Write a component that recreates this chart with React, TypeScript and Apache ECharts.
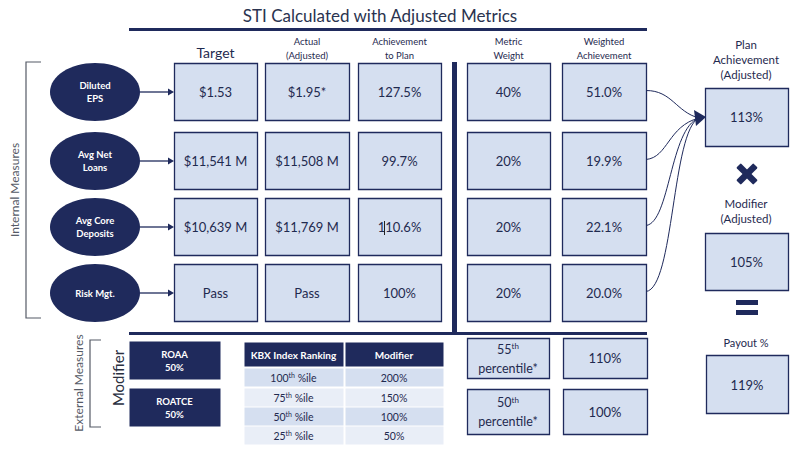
import React, { useEffect, useRef } from "react";
import * as echarts from "echarts";

// ---------- data ----------
const title = "STI Calculated with Adjusted Metrics";
const metrics = ["Diluted\nEPS", "Avg Net\nLoans", "Avg Core\nDeposits", "Risk Mgt."];
const targets = ["$1.53", "$11,541 M", "$10,639 M", "Pass"];
const actuals = ["$1.95*", "$11,508 M", "$11,769 M", "Pass"];
const achievements = ["127.5%", "99.7%", "110.6%", "100%"];
const weights = ["40%", "20%", "20%", "20%"];
const weightedAch = ["51.0%", "19.9%", "22.1%", "20.0%"];
const columnHeaders = ["Target", "Actual\n(Adjusted)", "Achievement\nto Plan", "Metric\nWeight", "Weighted\nAchievement"];
const modifierMetrics = ["ROAA\n50%", "ROATCE\n50%"];
const kbxHeaders = ["KBX Index Ranking", "Modifier"];
const kbxRanks = ["100", "75", "50", "25"];
const kbxModifiers = ["200%", "150%", "100%", "50%"];
const percentileRanks = ["55", "50"];
const percentileModifiers = ["110%", "100%"];
const resultLabels = ["Plan\nAchievement\n(Adjusted)", "Modifier\n(Adjusted)", "Payout %"];
const resultValues = ["113%", "105%", "119%"];

// ---------- styles ----------
const NAVY = "#1F2A5C";
const FILL = "#D5DFF0";
const FILL2 = "#E9EEF7";
const TXT = "#1F2A4F";
const GRAY = "#555A66";
const FONT = "Lato, 'Open Sans', sans-serif";

export default function App() {
  const ref = useRef<HTMLDivElement>(null);
  useEffect(() => {
    if (!ref.current) return;
    const chart = echarts.init(ref.current, null, { renderer: "svg" });
    const g: any[] = [];

    const text = (x: number, y: number, t: string, size: number, opts: any = {}) =>
      g.push({
        type: "text",
        x,
        y,
        rotation: opts.rotation || 0,
        z: 10,
        style: {
          text: t,
          fill: opts.fill || TXT,
          font: `${opts.weight || "normal"} ${size}px ${FONT}`,
          textAlign: "center",
          textVerticalAlign: "middle",
          lineHeight: opts.lineHeight || size * 1.3,
          rich: opts.rich,
        },
      });
    const box = (x1: number, y1: number, x2: number, y2: number, fill = FILL, stroke: string | null = NAVY) =>
      g.push({
        type: "rect",
        shape: { x: x1 + 0.5, y: y1 + 0.5, width: x2 - x1, height: y2 - y1 },
        style: { fill, stroke: stroke || "none", lineWidth: stroke ? 1.3 : 0 },
      });

    // title
    text(380, 15, title, 17, { fill: "#2A3350" });
    g.push({ type: "rect", shape: { x: 129, y: 28, width: 518, height: 3 }, style: { fill: NAVY } });

    // column layout
    const colX = [
      [174, 257],
      [265, 349],
      [358, 441],
      [467, 550],
      [562, 646],
    ];
    const rowY = [63, 132, 198, 264];
    const rowH = 57;
    const cols = [targets, actuals, achievements, weights, weightedAch];

    // headers
    columnHeaders.forEach((h, i) => {
      const cx = (colX[i][0] + colX[i][1]) / 2;
      if (i === 0) text(cx, 52, h, 14);
      else text(cx, 48.5, h, 9.5, { lineHeight: 13.5 });
    });

    // boxes with values
    cols.forEach((vals, ci) => {
      vals.forEach((v, ri) => {
        const [x1, x2] = colX[ci];
        const y1 = rowY[ri];
        box(x1, y1, x2, y1 + rowH);
        text((x1 + x2) / 2, y1 + rowH / 2, v, 13);
      });
    });
    // cursor artifact in 110.6%
    g.push({ type: "line", shape: { x1: 384.5, y1: 221, x2: 384.5, y2: 235 }, style: { stroke: "#222", lineWidth: 1 }, z: 11 });

    // ellipses + arrows
    metrics.forEach((m, i) => {
      const cy = rowY[i] + rowH / 2 + 0.5;
      g.push({ type: "ellipse", shape: { cx: 95, cy, rx: 45, ry: 29 }, style: { fill: NAVY } });
      text(95, cy, m, 9.5, { fill: "#fff", weight: "bold", lineHeight: 13.5 });
      g.push({ type: "line", shape: { x1: 140, y1: cy, x2: 169, y2: cy }, style: { stroke: NAVY, lineWidth: 1.3 } });
      g.push({
        type: "polygon",
        shape: { points: [[168, cy - 3.5], [174, cy], [168, cy + 3.5]] },
        style: { fill: NAVY },
      });
    });

    // internal measures bracket
    g.push({
      type: "polyline",
      shape: { points: [[41, 62], [26, 62], [26, 318], [41, 318]] },
      style: { stroke: GRAY, lineWidth: 1.2, fill: "none" },
    });
    text(14, 190, "Internal Measures", 12, { fill: GRAY, rotation: Math.PI / 2 });

    // thick vertical separator + bottom line
    g.push({ type: "rect", shape: { x: 452, y: 62, width: 5, height: 272 }, style: { fill: NAVY } });
    g.push({ type: "rect", shape: { x: 129, y: 332, width: 518, height: 3 }, style: { fill: NAVY } });

    // curves to plan achievement
    const endX = 699;
    const endY = 118;
    rowY.forEach((y, i) => {
      const sy = y + rowH / 2 - 1;
      const cps = [
        [672, sy, 676, endY - 6],
        [668, sy - 2, 668, endY + 8],
        [670, sy - 3, 670, endY + 10],
        [674, sy - 3, 672, endY + 12],
      ][i];
      g.push({
        type: "bezierCurve",
        shape: { x1: 646, y1: sy, cpx1: cps[0], cpy1: cps[1], cpx2: cps[2], cpy2: cps[3], x2: endX, y2: endY },
        style: { stroke: NAVY, lineWidth: 1, fill: "none" },
      });
    });
    g.push({ type: "polygon", shape: { points: [[694, 110], [706, 117], [696, 126]] }, style: { fill: NAVY } });

    // right column results
    text(746, 59, resultLabels[0], 11.5, { lineHeight: 15 });
    box(705, 88, 788, 146);
    text(746.5, 117, resultValues[0], 13);
    // multiply sign
    [Math.PI / 4, -Math.PI / 4].forEach((r) =>
      g.push({ type: "rect", x: 747, y: 174, rotation: r, shape: { x: -12, y: -3.2, width: 24, height: 6.4, r: 1 }, style: { fill: NAVY } })
    );
    text(746, 210.5, resultLabels[1], 11.5, { lineHeight: 15 });
    box(705, 233, 788, 290);
    text(746.5, 262, resultValues[1], 13);
    // equals sign
    g.push({ type: "rect", shape: { x: 736, y: 300, width: 22, height: 5 }, style: { fill: NAVY } });
    g.push({ type: "rect", shape: { x: 736, y: 310, width: 22, height: 5 }, style: { fill: NAVY } });
    text(746, 342, resultLabels[2], 11);
    box(706, 355, 788, 413);
    text(747, 385, resultValues[2], 13);

    // external measures
    g.push({
      type: "polyline",
      shape: { points: [[101, 340], [90, 340], [90, 427], [101, 427]] },
      style: { stroke: GRAY, lineWidth: 1.2, fill: "none" },
    });
    text(78, 383, "External Measures", 12, { fill: GRAY, rotation: Math.PI / 2 });
    text(118, 378, "Modifier", 15, { fill: "#2A2F3F", rotation: Math.PI / 2 });

    const modY = [
      [341, 379],
      [388, 426],
    ];
    modifierMetrics.forEach((m, i) => {
      box(129, modY[i][0], 220, modY[i][1], NAVY, null);
      text(174.5, (modY[i][0] + modY[i][1]) / 2 + 0.5, m, 9.5, { fill: "#fff", weight: "bold", lineHeight: 13 });
    });

    // KBX table
    const tX = [
      [244, 343],
      [345, 443],
    ];
    box(tX[0][0], 342, tX[0][1], 366, NAVY, null);
    box(tX[1][0], 342, tX[1][1], 366, NAVY, null);
    kbxHeaders.forEach((h, i) => text((tX[i][0] + tX[i][1]) / 2, 355, h, 10, { fill: "#fff", weight: "bold" }));
    const tRows = [
      [368, 386],
      [388, 406],
      [407, 425],
      [426, 444],
    ];
    const rich = {
      n: { fontSize: 10.5, fontFamily: FONT, fill: TXT, color: TXT, lineHeight: 13 },
      s: { fontSize: 7, fontFamily: FONT, fill: TXT, color: TXT, verticalAlign: "top", lineHeight: 8 },
    };
    kbxRanks.forEach((r, i) => {
      const f = i % 2 === 0 ? FILL : FILL2;
      box(tX[0][0], tRows[i][0], tX[0][1], tRows[i][1], f, null);
      box(tX[1][0], tRows[i][0], tX[1][1], tRows[i][1], f, null);
      const cy = (tRows[i][0] + tRows[i][1]) / 2 + 0.5;
      text((tX[0][0] + tX[0][1]) / 2, cy, `{n|${r}}{s|th}{n| %ile}`, 10.5, { rich });
      text((tX[1][0] + tX[1][1]) / 2, cy, kbxModifiers[i], 10.5);
    });

    // percentile boxes
    const pY = [
      [338, 378],
      [389, 434],
    ];
    const rich2 = {
      n: { fontSize: 12.5, fontFamily: FONT, fill: TXT, color: TXT, lineHeight: 14 },
      s: { fontSize: 8, fontFamily: FONT, fill: TXT, color: TXT, verticalAlign: "top", lineHeight: 10 },
    };
    percentileRanks.forEach((p, i) => {
      box(467, pY[i][0], 549, pY[i][1]);
      const mid = (pY[i][0] + pY[i][1]) / 2;
      text(508, mid - 9, `{n|${p}}{s|th}`, 12.5, { rich: rich2, lineHeight: 14 });
      text(508, mid + 10, "percentile*", 12.5);
      box(563, pY[i][0], 647, pY[i][1]);
      text(605, mid, percentileModifiers[i], 13);
    });

    chart.setOption({
      animation: false,
      backgroundColor: "#fff",
      graphic: { elements: g },
    });
    return () => chart.dispose();
  }, []);
  return <div ref={ref} style={{ position: "fixed", left: 0, top: 0, width: 799, height: 451 }} />;
}
